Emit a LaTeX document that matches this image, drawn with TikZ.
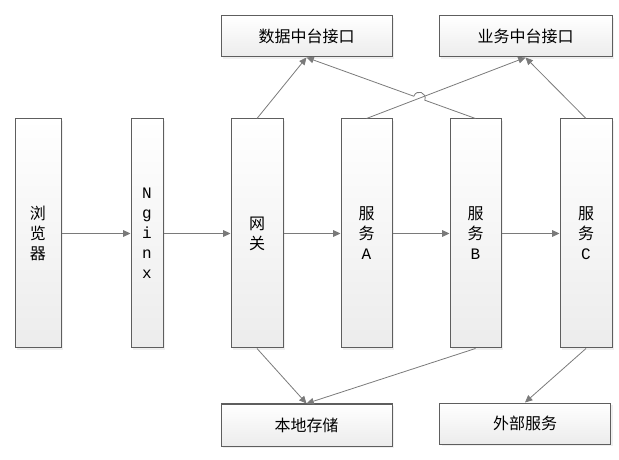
\documentclass[tikz,border=0pt]{standalone}
\usepackage{fontspec}
\setmainfont{Noto Sans CJK SC}
\newfontfamily\monofont{Liberation Mono}
\usepackage{tikz}
\usetikzlibrary{arrows.meta,positioning,calc,shadows}
\definecolor{archline}{HTML}{5E5E5E}
\definecolor{archarrow}{HTML}{7A7A7A}
\definecolor{archfill}{HTML}{ECECEC}

\begin{document}
\begin{tikzpicture}[x=0.75pt,y=0.75pt,
  box/.style={draw=archline, line width=0.75pt, top color=white, bottom color=archfill, drop shadow={shadow xshift=1.5pt, shadow yshift=-1.5pt, fill=black!12}, align=center, inner sep=0pt, font=\fontsize{12}{15}\selectfont},
  tall/.style={box, minimum height=171.75pt, minimum width=39pt},
  wide/.style={box, minimum height=30.75pt, minimum width=128.25pt},
  arrow/.style={-{Triangle[length=5.5pt, width=5pt]}, line width=0.6pt, draw=archarrow}
]
\useasboundingbox (0,0) rectangle (619,-460);

\node[tall, minimum width=34.5pt] (browser) at (38,-233.5) {浏\\览\\器};
\node[tall, minimum width=24pt, font=\monofont\fontsize{12}{15}\selectfont] (nginx) at (147,-233.5) {N\\g\\i\\n\\x};
\node[tall] (gateway) at (257,-233.5) {网\\关};
\node[tall, minimum width=38.25pt] (svca) at (366.5,-233.5) {服\\务\\{\monofont A}};
\node[tall, minimum width=38.25pt] (svcb) at (475.5,-233.5) {服\\务\\{\monofont B}};
\node[tall] (svcc) at (586,-233.5) {服\\务\\{\monofont C}};

\node[wide] (dataapi) at (306.5,-36.5) {数据中台接口};
\node[wide, minimum width=129.75pt] (bizapi) at (525.5,-36.5) {业务中台接口};
\node[wide, minimum height=31.5pt] (storage) at (306.5,-425) {本地存储};
\node[wide] (external) at (525,-423.5) {外部服务};

\draw[arrow] (browser) -- (nginx);
\draw[arrow] (nginx) -- (gateway);
\draw[arrow] (gateway) -- (svca);
\draw[arrow] (svca) -- (svcb);
\draw[arrow] (svcb) -- (svcc);

\draw[arrow] (gateway.north) -- (dataapi.south);
\draw[arrow] (svca.north) -- (bizapi.south);
\draw[arrow] (svcc.north) -- (bizapi.south);
% line hop where it crosses the svca line
\coordinate (hopr) at ($(svcb.north)!0.30!(dataapi.south)$);
\coordinate (hopl) at ($(svcb.north)!0.365!(dataapi.south)$);
\draw[arrow] (svcb.north) -- (hopr)
  .. controls ($(hopr)!6pt!-90:(hopl)$) and ($(hopl)!6pt!90:(hopr)$) .. (hopl)
  -- (dataapi.south);

\draw[arrow] (gateway.south) -- (storage.north);
\draw[arrow] (svcb.south) -- (storage.north);
\draw[arrow] (svcc.south) -- (external.north);
\end{tikzpicture}
\end{document}
